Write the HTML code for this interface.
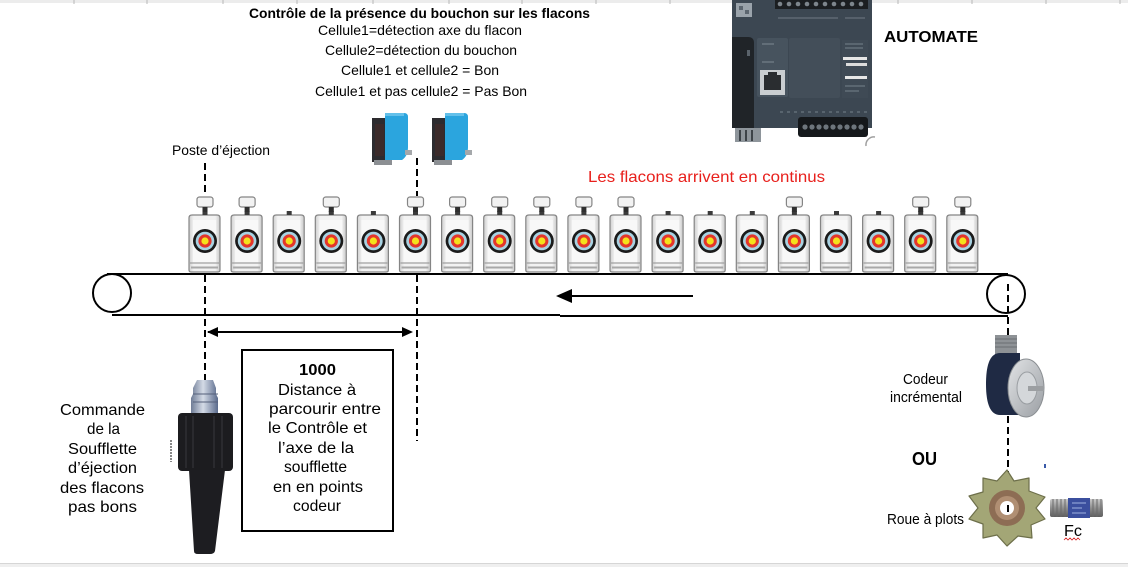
<!DOCTYPE html>
<html><head><meta charset="utf-8"><style>
html,body{margin:0;padding:0;background:#fff;}
svg{display:block;}
text{font-family:"Liberation Sans",Arial,sans-serif;}
</style></head><body>
<svg width="1128" height="567" viewBox="0 0 1128 567" xmlns="http://www.w3.org/2000/svg">
<defs>
<linearGradient id="glass" x1="0" x2="1" y1="0" y2="0">
  <stop offset="0" stop-color="#cfcfcf"/><stop offset="0.15" stop-color="#f2f2f2"/><stop offset="0.85" stop-color="#f2f2f2"/><stop offset="1" stop-color="#c8c8c8"/>
</linearGradient>
<g id="bot">
  <path d="M-16,218 q0,-3 3,-3 h25 q3,0 3,3 v52 q0,2 -2,2 h-27 q-2,0 -2,-2 z" fill="url(#glass)" stroke="#858585" stroke-width="1.2"/>
  <rect x="-12" y="220" width="23" height="42" fill="#f8f8f8"/>
  <path d="M-15,263 h29" stroke="#8f8f8f" stroke-width="1"/>
  <path d="M-14,267.5 h27" stroke="#a8a8a8" stroke-width="2"/>
  <rect x="-2.5" y="211" width="5" height="4" fill="#3a3a3a"/>
  <circle cx="0" cy="241" r="12" fill="#1b1b1b"/>
  <circle cx="0" cy="241" r="9.3" fill="#a8d2e2"/>
  <circle cx="0" cy="241" r="6.6" fill="#e3362b"/>
  <circle cx="0" cy="241" r="3.6" fill="#f4e21c"/>
</g>
<g id="cap">
  <rect x="-8" y="197" width="16" height="10" rx="2.5" fill="#f2f2f2" stroke="#858585" stroke-width="1.2"/>
  <rect x="-2.5" y="207" width="5" height="5" fill="#2e2e2e"/>
</g>
<linearGradient id="met" x1="0" x2="1" y1="0" y2="0">
  <stop offset="0" stop-color="#6f7c96"/><stop offset="0.45" stop-color="#d4dbe6"/><stop offset="1" stop-color="#5a6a8c"/>
</linearGradient>
<linearGradient id="fcg" x1="0" x2="0" y1="0" y2="1">
  <stop offset="0" stop-color="#c9c9c9"/><stop offset="0.5" stop-color="#8e8e8e"/><stop offset="1" stop-color="#5e5e5e"/>
</linearGradient>
<linearGradient id="flg" x1="0" x2="1" y1="0" y2="1">
  <stop offset="0" stop-color="#e2e4e6"/><stop offset="1" stop-color="#9a9ea3"/>
</linearGradient>
</defs>

<!-- top strip -->
<rect x="0" y="0" width="1128" height="3" fill="#ececec"/>
<g stroke="#b8b8b8" stroke-width="1">
  <path d="M74,0v4 M147,0v4 M223,0v4 M297,0v4 M373,0v4 M449,0v4 M522,0v4 M596,0v4 M670,0v4 M898,0v4 M972,0v4 M1046,0v4 M1120,0v4"/>
</g>
<!-- bottom strip -->
<rect x="0" y="563" width="1128" height="4" fill="#efefef"/>
<path d="M0,563.5h1128" stroke="#d6d6d6" stroke-width="1"/>

<!-- Title texts -->
<text x="249" y="18" font-size="14" font-weight="bold" textLength="341" lengthAdjust="spacingAndGlyphs">Contrôle de la présence du bouchon sur les flacons</text>
<text x="318" y="35" font-size="14" textLength="204" lengthAdjust="spacingAndGlyphs">Cellule1=détection  axe du flacon</text>
<text x="325" y="55" font-size="14" textLength="192" lengthAdjust="spacingAndGlyphs">Cellule2=détection du bouchon</text>
<text x="341" y="75" font-size="14" textLength="158" lengthAdjust="spacingAndGlyphs">Cellule1 et cellule2 = Bon</text>
<text x="315" y="96" font-size="14" textLength="212" lengthAdjust="spacingAndGlyphs">Cellule1 et pas cellule2 = Pas Bon</text>

<!-- PLC -->
<g>
  <rect x="732" y="0" width="140" height="128" fill="#3c4752"/>
  <rect x="736" y="3" width="16" height="14" fill="#9aa3ab"/>
  <rect x="739" y="6" width="4" height="4" fill="#5c6670"/><rect x="745" y="10" width="4" height="4" fill="#5c6670"/>
  <rect x="775" y="0" width="93" height="9" fill="#1b1e21"/>
  <g fill="#7d858c">
    <circle cx="780" cy="4" r="2.3"/><circle cx="789" cy="4" r="2.3"/><circle cx="798" cy="4" r="2.3"/><circle cx="807" cy="4" r="2.3"/><circle cx="816" cy="4" r="2.3"/><circle cx="825" cy="4" r="2.3"/><circle cx="834" cy="4" r="2.3"/><circle cx="843" cy="4" r="2.3"/><circle cx="852" cy="4" r="2.3"/><circle cx="861" cy="4" r="2.3"/>
  </g>
  <path d="M778,18h60 M845,18h20" stroke="#6f7a84" stroke-width="1"/>
  <path d="M732,37 h16 q6,0 6,6 v85 h-22 z" fill="#202428"/>
  <rect x="747" y="50" width="3" height="6" fill="#5a636b"/>
  <rect x="757" y="38" width="31" height="59" rx="2" fill="#47535e"/>
  <path d="M762,44h12 M762,62h12" stroke="#7d8891" stroke-width="1"/>
  <rect x="760" y="70" width="25" height="25" fill="#c9cdd0"/>
  <rect x="764" y="75" width="17" height="15" fill="#2a2d30"/>
  <rect x="768" y="72" width="9" height="4" fill="#2a2d30"/>
  <rect x="789" y="38" width="51" height="60" rx="2" fill="#434e59"/>
  <rect x="842" y="40" width="26" height="58" fill="#3f4a55"/>
  <rect x="843" y="57" width="24" height="3" fill="#e6e6e6"/>
  <rect x="846" y="63" width="21" height="3" fill="#dcdcdc"/>
  <rect x="845" y="76" width="22" height="3" fill="#e6e6e6"/>
  <path d="M845,44h18 M845,48h18 M845,86h20 M845,91h14" stroke="#76818a" stroke-width="1"/>
  <path d="M780,112h88" stroke="#75808a" stroke-width="1" stroke-dasharray="3,4"/>
  <rect x="798" y="117" width="70" height="20" rx="3" fill="#15181b"/>
  <g fill="#6d757c">
    <circle cx="805" cy="127" r="2.6"/><circle cx="812" cy="127" r="2.6"/><circle cx="819" cy="127" r="2.6"/><circle cx="826" cy="127" r="2.6"/><circle cx="833" cy="127" r="2.6"/><circle cx="840" cy="127" r="2.6"/><circle cx="847" cy="127" r="2.6"/><circle cx="854" cy="127" r="2.6"/><circle cx="861" cy="127" r="2.6"/>
  </g>
  <rect x="735" y="128" width="26" height="14" fill="#8e959b"/>
  <path d="M740,130v11 M746,130v11 M752,130v11" stroke="#3d4348" stroke-width="2"/>
  <path d="M866,146 a8,8 0 0 1 9,-9" fill="none" stroke="#a0a0a0" stroke-width="1.5"/>
</g>
<text x="884" y="42" font-size="16" font-weight="bold" textLength="94" lengthAdjust="spacingAndGlyphs">AUTOMATE</text>

<!-- sensors -->
<g>
  <rect x="372" y="118" width="14" height="44" fill="#2c2b2f"/>
  <rect x="375" y="124" width="9" height="32" fill="#3b2a2a"/>
  <path d="M385,113 h19 q4,0 4,4 v30 q0,9 -6,13 h-17 z" fill="#2ba5de"/>
  <path d="M385,113 h19 v3 h-19z" fill="#63c0ea"/>
  <rect x="374" y="160" width="18" height="5" fill="#8c8f93"/>
  <rect x="405" y="150" width="7" height="5" fill="#a5a8ab"/>

  <rect x="432" y="118" width="14" height="44" fill="#2c2b2f"/>
  <rect x="435" y="124" width="9" height="32" fill="#3b2a2a"/>
  <path d="M445,113 h19 q4,0 4,4 v30 q0,9 -6,13 h-17 z" fill="#2ba5de"/>
  <path d="M445,113 h19 v3 h-19z" fill="#63c0ea"/>
  <rect x="434" y="160" width="18" height="5" fill="#8c8f93"/>
  <rect x="465" y="150" width="7" height="5" fill="#a5a8ab"/>
</g>

<text x="172" y="155" font-size="14" textLength="98" lengthAdjust="spacingAndGlyphs">Poste d’éjection</text>
<text x="588" y="182" font-size="16" fill="#e8201c" textLength="237" lengthAdjust="spacingAndGlyphs">Les flacons arrivent en continus</text>

<!-- bottles -->
<use href="#bot" x="205"/><use href="#cap" x="205"/>
<use href="#bot" x="247.1"/><use href="#cap" x="247.1"/>
<use href="#bot" x="289.2"/>
<use href="#bot" x="331.3"/><use href="#cap" x="331.3"/>
<use href="#bot" x="373.4"/>
<use href="#bot" x="415.5"/><use href="#cap" x="415.5"/>
<use href="#bot" x="457.6"/><use href="#cap" x="457.6"/>
<use href="#bot" x="499.7"/><use href="#cap" x="499.7"/>
<use href="#bot" x="541.8"/><use href="#cap" x="541.8"/>
<use href="#bot" x="583.9"/><use href="#cap" x="583.9"/>
<use href="#bot" x="626"/><use href="#cap" x="626"/>
<use href="#bot" x="668.1"/>
<use href="#bot" x="710.2"/>
<use href="#bot" x="752.3"/>
<use href="#bot" x="794.4"/><use href="#cap" x="794.4"/>
<use href="#bot" x="836.5"/>
<use href="#bot" x="878.6"/>
<use href="#bot" x="920.7"/><use href="#cap" x="920.7"/>
<use href="#bot" x="962.8"/><use href="#cap" x="962.8"/>

<!-- conveyor -->
<g stroke="#000" stroke-width="2" fill="none">
  <circle cx="112" cy="293" r="19"/>
  <circle cx="1006" cy="294" r="19"/>
  <path d="M107,274 H1008"/>
  <path d="M112,315 H560 M560,316 H1008"/>
  <path d="M693,296 H568"/>
  <path d="M208,332 H402"/>
</g>
<path d="M556,296 L572,289 L572,303 Z" fill="#000"/>
<path d="M207,332 L218,327 L218,337 Z" fill="#000"/>
<path d="M413,332 L402,327 L402,337 Z" fill="#000"/>

<!-- dashed lines -->
<g stroke="#000" stroke-width="2" fill="none" stroke-dasharray="7,4">
  <path d="M205,163 V196"/>
  <path d="M417,158 V196"/>
  <path d="M205,275 V412"/>
  <path d="M417,275 V441"/>
  <path d="M1008,284 V505"/>
</g>

<!-- distance box -->
<rect x="242" y="350" width="151" height="181" fill="none" stroke="#000" stroke-width="2"/>
<g font-size="16">
  <text x="299" y="375" font-weight="bold" textLength="37" lengthAdjust="spacingAndGlyphs">1000</text>
  <text x="278" y="395" textLength="78" lengthAdjust="spacingAndGlyphs">Distance à</text>
  <text x="269" y="414" textLength="112" lengthAdjust="spacingAndGlyphs">parcourir entre</text>
  <text x="268" y="433" textLength="99" lengthAdjust="spacingAndGlyphs">le Contrôle et</text>
  <text x="278" y="453" textLength="76" lengthAdjust="spacingAndGlyphs">l’axe de la</text>
  <text x="284" y="472" textLength="63" lengthAdjust="spacingAndGlyphs">soufflette</text>
  <text x="273" y="492" textLength="90" lengthAdjust="spacingAndGlyphs">en en points</text>
  <text x="293" y="511" textLength="48" lengthAdjust="spacingAndGlyphs">codeur</text>
</g>

<!-- left text -->
<g font-size="16">
  <text x="60" y="415" textLength="85" lengthAdjust="spacingAndGlyphs">Commande</text>
  <text x="87" y="434" textLength="33" lengthAdjust="spacingAndGlyphs">de la</text>
  <text x="68" y="454" textLength="69" lengthAdjust="spacingAndGlyphs">Soufflette</text>
  <text x="68" y="473" textLength="69" lengthAdjust="spacingAndGlyphs">d’éjection</text>
  <text x="60" y="493" textLength="84" lengthAdjust="spacingAndGlyphs">des flacons</text>
  <text x="68" y="512" textLength="69" lengthAdjust="spacingAndGlyphs">pas bons</text>
</g>

<!-- soufflette -->
<g>
  <path d="M197,380 h16 l3,8 v6 l2,4 v19 h-27 v-19 l2,-4 v-6 z" fill="url(#met)"/>
  <path d="M193,394 h25 M193,402 h25" stroke="#55607a" stroke-width="1"/>
  <rect x="178" y="413" width="55" height="58" rx="4" fill="#1c1c1f"/>
  <path d="M186,416v52 M193,416v52 M214,416v52 M222,416v52" stroke="#2f2f33" stroke-width="1.5"/>
  <path d="M189,470 L225,470 L215,551 q-1,3 -5,3 h-12 q-4,0 -4,-3 Z" fill="#1d1d21"/>
  <path d="M171,440 v22" stroke="#888" stroke-width="2" stroke-dasharray="2,1"/>
</g>

<!-- encoder -->
<g>
  <rect x="995" y="335" width="22" height="20" fill="#8e9296"/>
  <path d="M995,339h22 M995,343h22 M995,347h22" stroke="#6a6e72" stroke-width="1"/>
  <path d="M1000,353 h20 v62 h-20 q-14,0 -14,-31 q0,-31 14,-31 z" fill="#1f2a44"/>
  <ellipse cx="1026" cy="388" rx="18" ry="29" fill="url(#flg)" stroke="#8a8e92" stroke-width="1"/>
  <ellipse cx="1027" cy="388" rx="10" ry="16" fill="#d4d7da" stroke="#9a9ea2" stroke-width="1"/>
  <rect x="1028" y="386" width="16" height="5" fill="#9c9fa2"/>
</g>
<text x="903" y="384" font-size="15" textLength="45" lengthAdjust="spacingAndGlyphs">Codeur</text>
<text x="890" y="402" font-size="15" textLength="72" lengthAdjust="spacingAndGlyphs">incrémental</text>
<text x="912" y="465" font-size="18" font-weight="bold" textLength="25" lengthAdjust="spacingAndGlyphs">OU</text>
<rect x="1044" y="464" width="2" height="4" fill="#3a5aa8"/>

<!-- gear -->
<g>
  <path d="M1007,470 L1014,481 L1029,478 L1029,491 L1045,497 L1036,508 L1045,519 L1031,525 L1032,538 L1018,536 L1007,546 L997,535 L983,538 L983,524 L969,519 L978,508 L969,496 L983,492 L983,478 L997,481 Z" fill="#a3a676" stroke="#6d6f4a" stroke-width="1.2" stroke-linejoin="round"/>
  <circle cx="1007" cy="508" r="18" fill="#8d6d54"/>
  <circle cx="1007" cy="508" r="12" fill="#b08f73"/>
  <circle cx="1007" cy="508" r="7" fill="#fff"/>
</g>
<path d="M1008,505 V512" stroke="#000" stroke-width="2"/>
<text x="887" y="524" font-size="15" textLength="77" lengthAdjust="spacingAndGlyphs">Roue à plots</text>

<!-- Fc sensor -->
<g>
  <rect x="1050" y="499" width="53" height="18" rx="2" fill="url(#fcg)"/>
  <path d="M1053,499v18 M1057,499v18 M1061,499v18 M1065,499v18 M1093,499v18 M1097,499v18 M1101,499v18" stroke="#6a6a6a" stroke-width="1"/>
  <rect x="1068" y="498" width="22" height="20" fill="#3b4f9e"/>
  <path d="M1072,503h14 M1072,508h10 M1072,513h14" stroke="#9fb0e0" stroke-width="1"/>
</g>
<text x="1064" y="536" font-size="16" textLength="18" lengthAdjust="spacingAndGlyphs">Fc</text>
<path d="M1064,540 l2,-2 l2,2 l2,-2 l2,2 l2,-2 l2,2 l2,-2 l2,2" fill="none" stroke="#d42020" stroke-width="0.8"/>
</svg>
</body></html>
